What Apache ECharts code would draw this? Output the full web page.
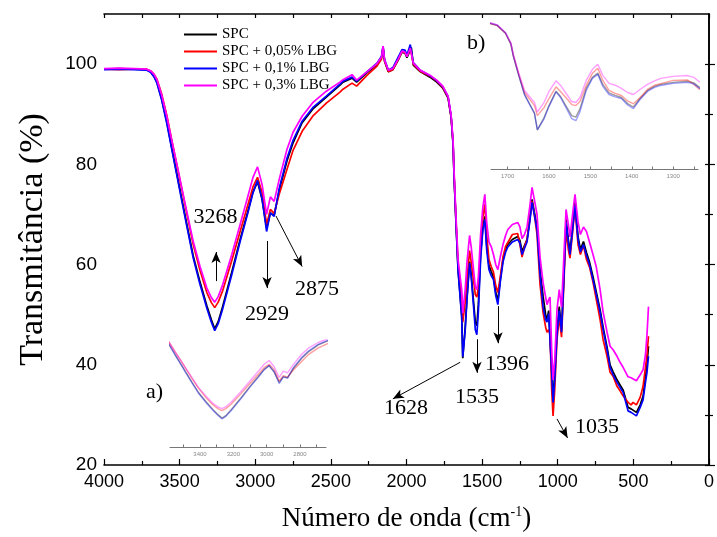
<!DOCTYPE html>
<html><head><meta charset="utf-8">
<script src="https://cdn.jsdelivr.net/npm/echarts@6/dist/echarts.min.js"></script>
<style>html,body{margin:0;padding:0;background:#fff}#c{width:717px;height:537px}</style>
</head><body><div id="c"></div>
<script>
const wavenumbers = [4000,3900,3800,3720,3690,3670,3650,3620,3585,3550,3515,3485,3450,3410,3365,3320,3290,3268,3245,3215,3155,3100,3050,3015,2985,2955,2925,2900,2890,2875,2840,2790,2750,2690,2620,2530,2440,2420,2360,2330,2260,2195,2165,2155,2145,2120,2090,2055,2030,2010,1997,1975,1968,1955,1910,1845,1800,1760,1725,1705,1692,1686,1673,1659,1635,1628,1612,1600,1583,1572,1555,1545,1535,1525,1510,1495,1482,1470,1455,1440,1425,1410,1396,1380,1362,1345,1330,1300,1265,1250,1236,1220,1203,1185,1170,1155,1137,1117,1097,1080,1071,1060,1051,1040,1031,1020,1005,990,975,962,945,930,919,900,886,866,850,830,810,790,767,745,720,700,674,654,634,608,588,568,535,515,502,480,469,455,436,420,410,400];

const spc = [99.0,99.1,99.0,98.9,98.4,97.6,96.4,93.2,88.5,83.0,77.6,73.0,67.7,61.7,56.5,51.8,49.0,47.2,48.6,51.7,58.5,65.0,70.5,74.5,76.5,73.0,67.3,70.3,70.6,69.8,75.0,80.7,84.3,88.3,91.0,93.4,95.8,96.4,97.2,96.4,98.3,99.9,101.3,103.3,100.6,98.5,98.9,100.8,102.4,102.2,101.3,102.8,103.3,99.8,98.5,97.4,96.4,95.2,93.2,89.4,84.0,78.0,68.5,59.0,49.8,41.3,47.5,53.5,60.6,58.0,52.0,48.5,47.8,52.0,62.0,67.5,69.6,64.0,59.8,58.6,57.5,54.5,52.8,57.0,61.0,63.0,64.0,65.0,65.6,64.8,62.6,63.8,65.0,69.0,73.0,70.5,67.6,59.0,53.7,50.0,49.0,50.8,51.0,39.0,33.0,38.0,47.0,51.6,47.0,56.0,69.0,65.0,62.6,68.0,72.4,65.6,63.0,64.6,62.4,60.5,57.6,54.5,51.0,47.5,43.5,40.0,38.6,37.0,36.0,35.0,31.5,31.2,31.5,30.5,30.2,32.0,33.7,37.5,40.0,43.7];

const lbg005 = [99.0,98.9,99.0,99.0,98.6,98.0,97.0,94.2,89.8,84.5,79.4,75.0,69.8,64.0,58.8,54.4,52.4,51.4,52.5,54.8,60.8,66.6,71.8,75.5,77.4,74.4,68.0,71.0,71.2,70.2,74.2,79.0,82.8,86.6,89.6,92.2,94.4,95.0,96.2,95.6,97.8,99.6,101.0,103.4,100.6,98.5,98.9,100.9,102.5,102.3,101.6,103.3,103.5,100.0,98.6,97.6,96.6,95.3,93.3,89.4,84.2,78.4,69.0,60.0,53.5,48.5,52.5,57.0,62.8,60.5,56.5,54.0,53.5,55.5,63.5,69.5,72.0,66.0,61.0,59.6,58.5,55.8,54.4,57.5,61.5,63.6,64.4,66.0,66.2,64.0,61.5,63.5,65.0,69.0,72.6,70.0,66.0,56.0,50.4,47.5,46.5,47.0,46.0,35.0,29.8,35.0,45.0,49.5,45.5,54.5,67.0,63.0,61.3,67.0,71.5,64.0,62.0,63.8,61.0,59.5,56.5,53.0,49.0,45.0,41.7,38.5,37.7,35.7,34.8,33.8,32.5,32.0,32.5,32.0,31.8,33.5,35.7,39.5,42.0,45.7];

const lbg01 = [98.9,99.0,98.9,98.8,98.3,97.5,96.2,93.0,88.2,82.7,77.3,72.6,67.3,61.3,56.0,51.3,48.5,46.8,48.2,51.2,58.0,64.6,70.2,74.3,76.8,73.2,66.6,70.3,70.6,69.6,75.4,81.2,84.8,88.6,91.3,93.6,96.0,96.6,97.4,96.6,98.5,100.2,101.6,103.6,100.9,98.8,99.3,101.4,102.9,102.8,101.8,103.9,104.0,100.3,98.8,97.7,96.7,95.5,93.5,89.6,84.2,78.1,68.5,58.8,49.5,41.6,46.8,53.0,60.3,57.5,51.0,47.0,46.0,50.5,61.0,67.0,69.0,63.0,59.0,57.8,57.0,53.8,52.0,56.5,60.5,62.5,63.5,64.5,65.0,64.3,62.0,63.2,64.5,68.5,72.4,70.0,67.0,58.0,51.5,49.0,48.5,50.2,50.5,38.5,32.5,37.0,46.0,50.8,46.5,55.5,68.5,64.5,62.0,67.5,71.8,65.0,62.5,64.0,61.8,60.0,57.0,54.0,50.5,47.0,43.0,39.5,38.0,36.5,35.5,34.5,30.8,30.5,30.8,29.8,29.6,31.5,33.0,36.5,38.5,41.7];

const lbg03 = [99.1,99.2,99.1,99.0,98.6,98.0,96.9,94.0,89.6,84.5,79.6,75.2,70.2,64.6,59.6,55.3,53.4,52.5,53.6,56.0,62.0,68.0,73.5,77.4,79.5,76.0,70.0,73.5,73.8,72.6,77.2,83.0,86.4,89.6,92.3,94.6,96.4,96.9,97.9,96.8,98.5,100.1,101.4,103.6,100.8,98.8,99.1,101.0,102.6,102.4,101.5,103.2,103.5,100.2,98.8,97.8,96.8,95.6,93.6,89.8,84.8,79.0,69.8,61.0,55.0,50.3,55.0,60.5,65.8,63.5,58.5,55.5,55.0,57.5,66.0,71.5,74.0,68.5,64.5,63.6,62.0,60.0,59.0,61.5,64.0,65.8,67.0,68.0,68.4,67.5,65.2,66.0,67.5,71.5,75.4,73.0,70.0,61.5,56.4,53.5,52.0,53.0,53.5,43.0,37.0,41.0,51.0,55.0,51.5,60.0,71.0,68.0,65.5,70.5,74.0,68.5,66.0,67.5,66.6,64.5,62.0,59.5,55.0,50.5,46.5,43.7,43.0,41.7,40.5,39.5,37.6,37.4,37.5,36.8,36.6,38.0,39.0,42.0,46.0,51.6];

const seriesNames = ['SPC','SPC + 0,05% LBG','SPC + 0,1% LBG','SPC + 0,3% LBG'];
const seriesColors = ['#000000','#ff0000','#0000ff','#ff00ff'];
const seriesValues = [spc, lbg005, lbg01, lbg03];

const yLabelsMain = [20,40,60,80,100];
const yMinorMain = [30,50,70,90];
const insetATickLabels = [3400,3200,3000,2800];
const insetATicks = [3500,3400,3300,3200,3100,3000,2900,2800,2700];
const insetBTickLabels = [1700,1600,1500,1400,1300];
const insetBTicks = [1700,1650,1600,1550,1500,1450,1400,1350,1300,1250];

// annotations: [label, tail wn, tail T, head wn, head T, text wn, text T]
const annotations = [
  ['3268',3259,56.7,3259,62.5,3262,69.5],
  ['2929',2922,64.7,2922,55.3,2922,50.1],
  ['2875',2863,69.7,2690,59.6,2592,55.1],
  ['1628',1645,40.5,2090,33.2,2003,31.4],
  ['1535',1534,45.1,1534,38.4,1534,33.6],
  ['1396',1395,51.7,1395,44.3,1335,40.2],
  ['1035',1005,29.2,935,25.4,740,27.6]
];

const serif = '"Liberation Serif","Times New Roman",serif';
const sans = '"Liberation Sans",Arial,sans-serif';
const plain = v => String(v);

function pairs(vals){ return wavenumbers.map((w,i)=>[w, vals[i]]); }

const series = [];
// insets (faded copies of the spectra)
[[2,3],[3,4]].forEach(([xi,yi])=>{
  seriesValues.forEach((vals,k)=>{
    series.push({
      name: 'inset'+xi+'_'+k, type:'line', xAxisIndex:xi, yAxisIndex:yi,
      data: pairs(vals), showSymbol:false, symbol:'none', silent:true, clip:true,
      lineStyle:{color:seriesColors[k], width:1.4, opacity:0.38}, z:1
    });
  });
});
// main
[0,1,2,3].forEach(k=>{
  series.push({
    name: seriesNames[k], type:'line', xAxisIndex:0, yAxisIndex:0,
    data: pairs(seriesValues[k]), showSymbol:false, symbol:'none',
    color: seriesColors[k],
    lineStyle:{color:seriesColors[k], width:1.7}, z:3
  });
});
// annotation arrows and labels
series.push({
  name:'annot', type:'line', xAxisIndex:0, yAxisIndex:0, data:[], silent:true, z:5,
  markLine:{
    silent:true, symbol:['none','arrow'], symbolSize:[7,11], animation:false,
    lineStyle:{color:'#000', width:1, type:'solid'}, label:{show:false},
    data: annotations.map(a=>[{coord:[a[1],a[2]]},{coord:[a[3],a[4]]}])
  },
  markPoint:{
    silent:true, symbol:'circle', symbolSize:0, animation:false,
    data: annotations.map(a=>({coord:[a[5],a[6]], value:a[0],
      label:{show:true, position:'inside', formatter:a[0], color:'#000', fontFamily:serif, fontSize:22}}))
  }
});

const chart = echarts.init(document.getElementById('c'), null, {renderer:'canvas'});
chart.setOption({
  animation:false,
  backgroundColor:'#fff',
  grid:[
    {left:104, right:8, top:14, bottom:71},
    {left:170, width:156, top:340, height:107},
    {left:491, width:207, top:20, height:149}
  ],
  legend:{
    data: seriesNames, orient:'vertical', left:178, top:21,
    itemWidth:33, itemHeight:17, itemGap:0,
    itemStyle:{opacity:0},
    textStyle:{fontFamily:serif, fontSize:15, color:'#000', lineHeight:17},
    selectedMode:false
  },
  xAxis:[
    {gridIndex:0, type:'value', min:0, max:4000, interval:500, inverse:true,
     name:'Número de onda (cm{sup|-1})', nameLocation:'middle', nameGap:40,
     nameTextStyle:{fontFamily:serif, fontSize:27, color:'#000',
       rich:{sup:{fontFamily:serif, fontSize:14, color:'#000', verticalAlign:'top', padding:[0,0,10,0]}}},
     axisLine:{show:true, lineStyle:{color:'#000', width:1.6}},
     axisTick:{show:true, inside:true, length:6, lineStyle:{color:'#000', width:1.2}},
     minorTick:{show:true, splitNumber:2, length:4, lineStyle:{color:'#000', width:1.2}},
     axisLabel:{fontFamily:sans, fontSize:18, color:'#000', margin:8, formatter:plain},
     splitLine:{show:false}},
    {gridIndex:0, type:'value', min:0, max:4000, interval:250, inverse:true, position:'top',
     axisLine:{show:true, lineStyle:{color:'#000', width:1.6}},
     axisTick:{show:true, inside:true, length:4, lineStyle:{color:'#000', width:1.2}},
     axisLabel:{show:false}, splitLine:{show:false}},
    {gridIndex:1, type:'value', min:2644, max:3580, inverse:true,
     axisLine:{show:true, lineStyle:{color:'#777', width:1}},
     axisTick:{show:true, inside:true, length:2.5, customValues:insetATicks, lineStyle:{color:'#777', width:1}},
     axisLabel:{show:true, customValues:insetATickLabels, fontFamily:sans, fontSize:6, color:'#888', margin:4, formatter:plain},
     splitLine:{show:false}},
    {gridIndex:2, type:'value', min:1240, max:1740, inverse:true,
     axisLine:{show:true, lineStyle:{color:'#777', width:1}},
     axisTick:{show:true, inside:true, length:2.5, customValues:insetBTicks, lineStyle:{color:'#777', width:1}},
     axisLabel:{show:true, customValues:insetBTickLabels, fontFamily:sans, fontSize:6, color:'#888', margin:4, formatter:plain},
     splitLine:{show:false}}
  ],
  yAxis:[
    {gridIndex:0, type:'value', min:20, max:110, position:'left',
     name:'Transmitância (%)', nameLocation:'middle', nameGap:54, nameRotate:90,
     nameTextStyle:{fontFamily:serif, fontSize:34, color:'#000'},
     axisLine:{show:true, lineStyle:{color:'#000', width:1.6}},
     axisTick:{show:true, inside:true, length:6, customValues:yLabelsMain, lineStyle:{color:'#000', width:1.2}},
     axisLabel:{customValues:yLabelsMain, fontFamily:sans, fontSize:19, color:'#000', margin:7, formatter:plain},
     splitLine:{show:false}},
    {gridIndex:0, type:'value', min:20, max:110, position:'left',
     axisLine:{show:false},
     axisTick:{show:true, inside:true, length:4, customValues:yMinorMain, lineStyle:{color:'#000', width:1.2}},
     axisLabel:{show:false}, splitLine:{show:false}},
    {gridIndex:0, type:'value', min:20, max:110, position:'right',
     axisLine:{show:true, lineStyle:{color:'#000', width:1.6}},
     axisTick:{show:true, inside:true, length:4, customValues:yLabelsMain.concat(yMinorMain), lineStyle:{color:'#000', width:1.2}},
     axisLabel:{show:false}, splitLine:{show:false}},
    {gridIndex:1, type:'value', min:31, max:91, show:false},
    {gridIndex:2, type:'value', min:22, max:96, show:false}
  ],
  graphic:[
    {type:'text', left:146, top:381, style:{text:'a)', font:'22px '+serif, fill:'#000'}},
    {type:'text', left:467, top:32, style:{text:'b)', font:'22px '+serif, fill:'#000'}}
  ],
  series: series
});
</script>
</body></html>
